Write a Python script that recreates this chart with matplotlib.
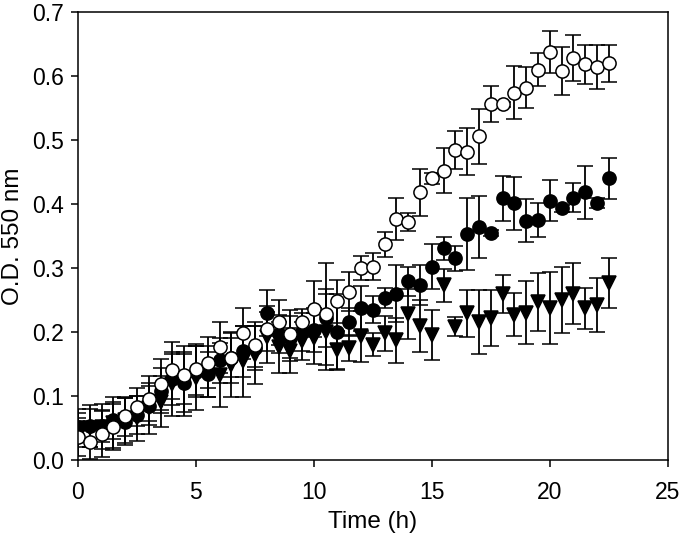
import numpy as np
import matplotlib
matplotlib.use("Agg")
import matplotlib.pyplot as plt

plt.rcParams['font.family'] = ['Liberation Sans', 'DejaVu Sans']

# sampling times (h)
time_h = np.arange(0, 23, 0.5)

# open circles
od_open = [0.036, 0.028, 0.040, 0.051, 0.068, 0.083, 0.096, 0.118, 0.140, 0.133,
           0.142, 0.152, 0.176, 0.160, 0.198, 0.180, 0.205, 0.215, 0.197, 0.216,
           0.236, 0.228, 0.248, 0.263, 0.300, 0.302, 0.337, 0.377, 0.372, 0.418,
           0.440, 0.452, 0.484, 0.482, 0.506, 0.556, 0.556, 0.574, 0.582, 0.610,
           0.638, 0.608, 0.628, 0.618, 0.614, 0.620]
err_open = [0.030, 0.026, 0.036, 0.036, 0.030, 0.030, 0.035, 0.040, 0.045, 0.045,
            0.040, 0.040, 0.040, 0.030, 0.040, 0.035, 0.035, 0.035, 0.037, 0.020,
            0.044, 0.080, 0.034, 0.030, 0.019, 0.021, 0.020, 0.033, 0.014, 0.036,
            0.008, 0.035, 0.030, 0.037, 0.043, 0.028, 0.004, 0.041, 0.032, 0.026,
            0.033, 0.038, 0.036, 0.030, 0.035, 0.029]

# filled circles
od_filled = [0.052, 0.053, 0.053, 0.062, 0.060, 0.070, 0.085, 0.108, 0.126, 0.120,
             0.138, 0.134, 0.156, 0.160, 0.170, 0.175, 0.229, 0.197, 0.190, 0.200,
             0.203, 0.222, 0.200, 0.215, 0.237, 0.235, 0.253, 0.260, 0.279, 0.273,
             0.302, 0.331, 0.315, 0.353, 0.364, 0.355, 0.409, 0.401, 0.374, 0.375,
             0.405, 0.393, 0.410, 0.418, 0.402, 0.440]
err_filled = [0.022, 0.033, 0.025, 0.029, 0.037, 0.030, 0.030, 0.035, 0.040, 0.045,
              0.040, 0.035, 0.035, 0.040, 0.040, 0.035, 0.036, 0.030, 0.035, 0.030,
              0.035, 0.045, 0.060, 0.022, 0.035, 0.021, 0.016, 0.045, 0.023, 0.031,
              0.035, 0.018, 0.020, 0.056, 0.049, 0.005, 0.035, 0.041, 0.034, 0.027,
              0.032, 0.006, 0.023, 0.042, 0.008, 0.032]

# filled triangles
od_tri = [0.050, 0.050, 0.052, 0.058, 0.062, 0.065, 0.081, 0.091, 0.118, 0.118,
          0.128, 0.138, 0.133, 0.148, 0.154, 0.164, 0.192, 0.176, 0.171, 0.186,
          0.190, 0.200, 0.172, 0.175, 0.193, 0.180, 0.198, 0.187, 0.228, 0.209,
          0.195, 0.273, 0.208, 0.229, 0.216, 0.222, 0.259, 0.227, 0.230, 0.247,
          0.237, 0.250, 0.260, 0.237, 0.242, 0.277]
err_tri = [0.030, 0.030, 0.035, 0.040, 0.035, 0.035, 0.040, 0.040, 0.050, 0.050,
           0.050, 0.040, 0.050, 0.050, 0.055, 0.045, 0.040, 0.040, 0.035, 0.030,
           0.040, 0.060, 0.030, 0.020, 0.040, 0.018, 0.027, 0.035, 0.039, 0.041,
           0.039, 0.026, 0.015, 0.037, 0.050, 0.044, 0.030, 0.034, 0.049, 0.045,
           0.056, 0.052, 0.048, 0.032, 0.042, 0.039]

fig = plt.figure(figsize=(6.8, 5.39), dpi=100)
ax = fig.add_axes([0.1147, 0.1466, 0.8673, 0.8311])

eb = dict(ls='none', ecolor='black', elinewidth=1.3, capsize=6, capthick=1.3,
          markersize=9.5, markeredgecolor='black', markeredgewidth=1.1)
ax.errorbar(time_h, od_tri, yerr=err_tri, fmt='v', color='black', markerfacecolor='black', **eb)
ax.errorbar(time_h, od_filled, yerr=err_filled, fmt='o', color='black', markerfacecolor='black', **eb)
ax.errorbar(time_h, od_open, yerr=err_open, fmt='o', color='black', markerfacecolor='white', **eb)

ax.set_xlim(0, 25)
ax.set_ylim(0, 0.7)
ax.set_xticks([0, 5, 10, 15, 20, 25])
ax.set_yticks(np.arange(0, 0.71, 0.1))
ax.yaxis.set_major_formatter(matplotlib.ticker.FormatStrFormatter('%.1f'))
ax.tick_params(direction='out', length=5, width=1.1, labelsize=16.5, pad=5, top=False, right=False)
ax.tick_params(axis='x', pad=10)
for s in ax.spines.values():
    s.set_linewidth(1.1)
ax.set_xlabel('Time (h)', fontsize=17.5, labelpad=5)
ax.set_ylabel('O.D. 550 nm', fontsize=17.5, labelpad=6)

fig.savefig('out.png', dpi=100)
